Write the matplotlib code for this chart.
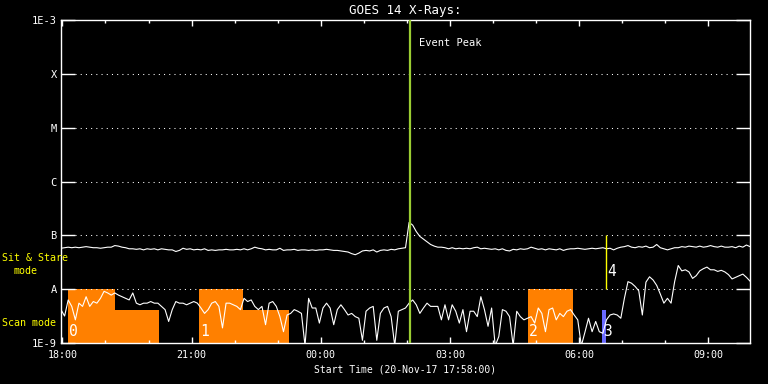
import numpy as np
import matplotlib
matplotlib.use("Agg")
import matplotlib.pyplot as plt
import matplotlib.dates as mdates
from matplotlib.ticker import NullLocator

plt.rcParams['font.family'] = ['DejaVu Sans Mono']

start = np.datetime64("2017-11-20T17:58")
end = np.datetime64("2017-11-21T09:58")
step = np.timedelta64(5, "m")

# log10 of flux (W/m^2), one reading every 5 min from 17:58
long_log = [
    -7.24, -7.23, -7.22, -7.23, -7.22, -7.23, -7.22, -7.21, -7.22, -7.23,
    -7.23, -7.24, -7.23, -7.22, -7.22, -7.19, -7.20, -7.22, -7.23, -7.25,
    -7.25, -7.26, -7.25, -7.27, -7.25, -7.26, -7.25, -7.27, -7.25, -7.26,
    -7.27, -7.27, -7.30, -7.28, -7.24, -7.26, -7.25, -7.27, -7.26, -7.27,
    -7.25, -7.28, -7.27, -7.28, -7.27, -7.27, -7.26, -7.27, -7.27, -7.26,
    -7.27, -7.25, -7.27, -7.25, -7.22, -7.24, -7.25, -7.27, -7.26, -7.27,
    -7.27, -7.24, -7.28, -7.27, -7.27, -7.26, -7.28, -7.27, -7.27, -7.28,
    -7.27, -7.28, -7.27, -7.27, -7.26, -7.27, -7.28, -7.28, -7.29, -7.30,
    -7.31, -7.34, -7.36, -7.33, -7.29, -7.28, -7.29, -7.27, -7.31, -7.28,
    -7.27, -7.28, -7.26, -7.27, -7.25, -7.24, -7.23, -6.76, -6.81, -6.93,
    -7.02, -7.07, -7.12, -7.17, -7.20, -7.22, -7.22, -7.23, -7.25, -7.23,
    -7.25, -7.24, -7.25, -7.24, -7.25, -7.23, -7.22, -7.25, -7.24, -7.25,
    -7.26, -7.25, -7.27, -7.25, -7.28, -7.29, -7.26, -7.27, -7.25, -7.26,
    -7.25, -7.22, -7.24, -7.26, -7.25, -7.27, -7.25, -7.26, -7.27, -7.25,
    -7.28, -7.26, -7.25, -7.25, -7.24, -7.25, -7.26, -7.25, -7.24, -7.25,
    -7.24, -7.23, -7.25, -7.24, -7.27, -7.24, -7.22, -7.21, -7.19, -7.22,
    -7.23, -7.21, -7.22, -7.20, -7.23, -7.22, -7.17, -7.23, -7.25, -7.27,
    -7.25, -7.23, -7.23, -7.21, -7.22, -7.20, -7.21, -7.22, -7.20, -7.22,
    -7.21, -7.19, -7.21, -7.22, -7.20, -7.22, -7.22, -7.21, -7.23, -7.20,
    -7.22, -7.18, -7.21,
]

short_log = [
    -8.38, -8.50, -8.20, -8.32, -8.57, -8.26, -8.32, -8.14, -8.32, -8.23,
    -8.26, -8.17, -8.04, -8.07, -8.11, -8.07, -8.11, -8.14, -8.17, -8.20,
    -8.07, -8.26, -8.29, -8.26, -8.26, -8.23, -8.26, -8.26, -8.32, -8.38,
    -8.60, -8.38, -8.23, -8.26, -8.26, -8.29, -8.26, -8.23, -8.26, -8.35,
    -8.45, -8.38, -8.26, -8.23, -8.32, -8.72, -8.26, -8.26, -8.29, -8.32,
    -8.38, -8.17, -8.23, -8.20, -8.32, -8.38, -8.32, -8.66, -8.26, -8.23,
    -8.32, -8.51, -8.79, -8.48, -8.45, -8.38, -8.41, -8.45, -9.05, -8.17,
    -8.35, -8.35, -8.63, -8.35, -8.26, -8.35, -8.66, -8.38, -8.29, -8.38,
    -8.48, -8.45, -8.51, -8.54, -8.95, -8.41, -8.35, -8.32, -8.95, -8.45,
    -8.35, -8.32, -8.51, -9.05, -8.41, -8.38, -8.35, -8.26, -8.20, -8.29,
    -8.45, -8.35, -8.26, -8.32, -8.32, -8.32, -8.57, -8.29, -8.57, -8.29,
    -8.41, -8.63, -8.38, -8.79, -8.41, -8.41, -8.51, -8.14, -8.38, -8.69,
    -8.35, -9.05, -8.88, -8.38, -8.41, -8.51, -9.05, -8.41, -8.51, -8.57,
    -8.54, -8.51, -8.63, -8.35, -8.45, -8.79, -8.38, -8.35, -8.57, -8.45,
    -8.51, -8.41, -8.38, -8.48, -8.57, -9.05, -8.80, -8.54, -8.79, -8.60,
    -8.79, -8.82, -8.57, -8.48, -8.46, -8.48, -8.54, -8.17, -7.86, -7.89,
    -7.95, -8.03, -8.48, -7.87, -7.77, -7.83, -7.93, -8.09, -8.26, -8.17,
    -8.26, -7.86, -7.56, -7.66, -7.64, -7.68, -7.80, -7.75, -7.66, -7.62,
    -7.59, -7.64, -7.64, -7.67, -7.65, -7.68, -7.73, -7.81, -7.78, -7.75,
    -7.72, -7.78, -7.85,
]

# scan-mode windows (orange), and a short one in blue
span_start = ["2017-11-20T18:08", "2017-11-20T18:08", "2017-11-20T21:10",
              "2017-11-20T21:10", "2017-11-21T04:49"]
span_end = ["2017-11-20T19:13", "2017-11-20T20:14", "2017-11-20T22:12",
            "2017-11-20T23:15", "2017-11-21T05:51"]
span_top = [1.0e-8, 4.1e-9, 1.0e-8, 4.1e-9, 1.0e-8]
span_num = ["0", None, "1", None, "2"]

blue_start = "2017-11-21T06:32"
blue_end = "2017-11-21T06:38"
blue_top = 4.1e-9

peak_time = "2017-11-21T02:04"
mark4_time = "2017-11-21T06:37"

levels = [1e-9, 1e-8, 1e-7, 1e-6, 1e-5, 1e-4, 1e-3]
level_labels = ["1E-9", "A", "B", "C", "M", "X", "1E-3"]

times = start + np.arange(len(long_log)) * step

fig = plt.figure(figsize=(7.68, 3.84), dpi=100, facecolor="black")
ax = fig.add_axes([61 / 768, 1 - 343 / 384, 689 / 768, 323 / 384])
ax.set_facecolor("black")

for s, e, top, num in zip(span_start, span_end, span_top, span_num):
    xs = np.array([np.datetime64(s), np.datetime64(e)])
    ax.fill_between(xs, 1e-9, top, color="#ff8000", lw=0, zorder=1)
    if num is not None:
        ax.text(mdates.date2num(np.datetime64(s)) + 1.5 / 1440, 1.2e-9, num,
                color="white", fontsize=10.5, ha="left", va="bottom", zorder=5)

xs = np.array([np.datetime64(blue_start), np.datetime64(blue_end)])
ax.fill_between(xs, 1e-9, blue_top, color="#6a6aff", lw=0, zorder=1)
ax.text(mdates.date2num(np.datetime64(blue_start)) + 1.0 / 1440, 1.2e-9, "3",
        color="white", fontsize=10.5, ha="left", va="bottom", zorder=5)

for lv in levels[1:-1]:
    ax.axhline(lv, color="white", lw=0.75, linestyle=(0, (1, 4)),
               xmin=14 / 689, xmax=1 - 14 / 689, zorder=1.5)

ax.plot(times, 10 ** np.array(long_log), color="white", lw=0.8, zorder=3)
ax.plot(times, 10 ** np.array(short_log), color="white", lw=0.8, zorder=3)

pk = mdates.date2num(np.datetime64(peak_time))
ax.axvline(pk, color="#9acd32", lw=1.6, zorder=4)
ax.text(pk + 13 / 1440, 3.7e-4, "Event Peak", color="white", fontsize=7.5,
        ha="left", va="center")

m4 = mdates.date2num(np.datetime64(mark4_time))
ax.vlines(m4, 1e-8, 1e-7, color="yellow", lw=1, zorder=4)
ax.text(m4 + 1.5 / 1440, 1.55e-8, "4", color="white", fontsize=10.5,
        ha="left", va="bottom")

ax.set_yscale("log")
ax.set_ylim(1e-9, 1e-3)
ax.set_xlim(start, end)
ax.set_yticks(levels)
ax.set_yticklabels(level_labels)
ax.yaxis.set_minor_locator(NullLocator())
ax.xaxis.set_major_locator(mdates.HourLocator(byhour=range(0, 24, 3)))
ax.xaxis.set_minor_locator(mdates.HourLocator())
ax.xaxis.set_major_formatter(mdates.DateFormatter("%H:%M"))

ax.tick_params(axis="y", which="major", direction="in", length=10, width=1,
               colors="white", left=True, right=True, labelsize=7.5, pad=3)
ax.tick_params(axis="x", which="major", direction="in", length=4.3, width=1,
               colors="white", top=True, bottom=True, labelsize=7.2, pad=5)
ax.tick_params(axis="x", which="minor", direction="in", length=2.5, width=1,
               colors="white", top=True, bottom=True)
for sp in ax.spines.values():
    sp.set_color("white")
    sp.set_linewidth(1)

ax.set_title("GOES 14 X-Rays:", color="white", fontsize=9, pad=4)
ax.set_xlabel("Start Time (20-Nov-17 17:58:00)", color="white", fontsize=7,
              labelpad=3)

fig.text(2 / 768, 1 - 258 / 384, "Sit & Stare", color="yellow", fontsize=7.2,
         ha="left", va="center")
fig.text(13 / 768, 1 - 271 / 384, "mode", color="yellow", fontsize=7.2,
         ha="left", va="center")
fig.text(2 / 768, 1 - 323 / 384, "Scan mode", color="yellow", fontsize=7.2,
         ha="left", va="center")

fig.savefig("out.png", dpi=100, facecolor="black")
